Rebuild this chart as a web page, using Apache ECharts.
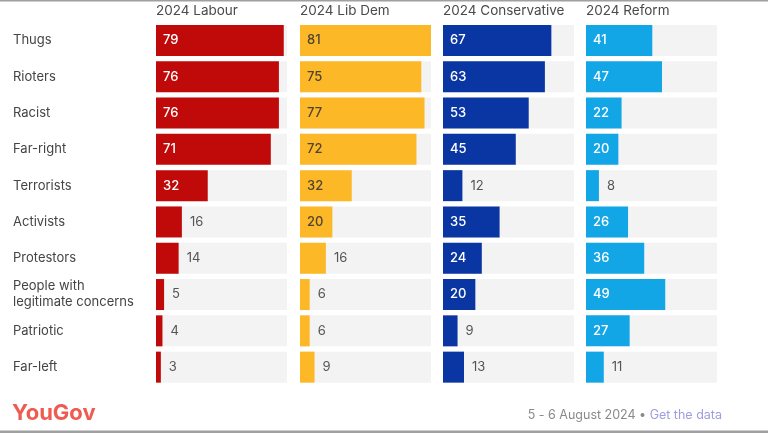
<!DOCTYPE html>
<html><head><meta charset="utf-8">
<script src="https://cdn.jsdelivr.net/npm/echarts@6/dist/echarts.min.js"></script>
<style>html,body{margin:0;padding:0;background:#fff}#c{width:768px;height:433px}</style>
</head><body><div id="c"></div>
<script>
const categories = ["Thugs","Rioters","Racist","Far-right","Terrorists","Activists","Protestors","People with\nlegitimate concerns","Patriotic","Far-left"];
const panelTitles = ["2024 Labour","2024 Lib Dem","2024 Conservative","2024 Reform"];
const labour = [79,76,76,71,32,16,14,5,4,3];
const libdem = [81,75,77,72,32,20,16,6,6,9];
const conservative = [67,63,53,45,12,35,24,20,9,13];
const reform = [41,47,22,20,8,26,36,49,27,11];
const seriesValues = [labour, libdem, conservative, reform];

const colors = ["#c00a0a","#fdb827","#0a36a3","#13a6e6"];
const insideText = ["#ffffff","#4e4433","#ffffff","#ffffff"];
const lefts = [156,300,443,586];
const W = 131, TOP = 22.3, H = 363;
const maxV = Math.max(...seriesValues.flat());
const FONT = "Inter, 'Noto Sans', sans-serif";

const grids=[], xAxes=[], yAxes=[], series=[], titles=[];
seriesValues.forEach((vals,i)=>{
  grids.push({left:lefts[i], top:TOP, width:W, height:H});
  xAxes.push({gridIndex:i, type:'value', min:0, max:maxV, show:false});
  yAxes.push({gridIndex:i, type:'category', data:categories, inverse:true,
    axisLine:{show:false}, axisTick:{show:false},
    axisLabel: i===0 ? {show:true, align:'left', margin:lefts[0]-13, color:'#444', fontSize:13, fontFamily:FONT, lineHeight:16} : {show:false}});
  titles.push({text:panelTitles[i], left:lefts[i], top:4, padding:0, textStyle:{fontSize:13.5, fontWeight:'normal', color:'#4a4a4a', fontFamily:FONT}});
  series.push({type:'bar', xAxisIndex:i, yAxisIndex:i, barWidth:31,
    showBackground:true, backgroundStyle:{color:'#f3f3f3'},
    itemStyle:{color:colors[i]},
    data: vals.map(v=>({value:v, label: v>=20
      ? {show:true, position:'insideLeft', distance:7, color:insideText[i], fontSize:13, fontWeight:500, fontFamily:FONT}
      : {show:true, position:'right', distance:8, color:'#555', fontSize:13, fontFamily:FONT}})),
    animation:false});
});

const chart = echarts.init(document.getElementById('c'), null, {renderer:'canvas'});
chart.setOption({
  animation:false,
  title:titles, grid:grids, xAxis:xAxes, yAxis:yAxes, series:series,
  graphic:[
    {type:'rect', shape:{x:0,y:0,width:768,height:1.5}, style:{fill:'#a0a0a0'}},
    {type:'rect', shape:{x:0,y:430.5,width:768,height:2.5}, style:{fill:'#a0a0a0'}},
    {type:'text', left:12, top:402, style:{text:'YouGov', font:"bold 22px Inter, 'Noto Sans', sans-serif", fill:'#ef5b51'}},
    {type:'text', right:46, top:409, style:{
      text:'{a|5 - 6 August 2024 • }{b|Get the data}',
      rich:{a:{fontSize:12.5, fill:'#8a8a8a', color:'#8a8a8a', fontFamily:FONT}, b:{fontSize:12.5, fill:'#9d9de0', color:'#9d9de0', fontFamily:FONT}}
    }}
  ]
});
</script></body></html>
